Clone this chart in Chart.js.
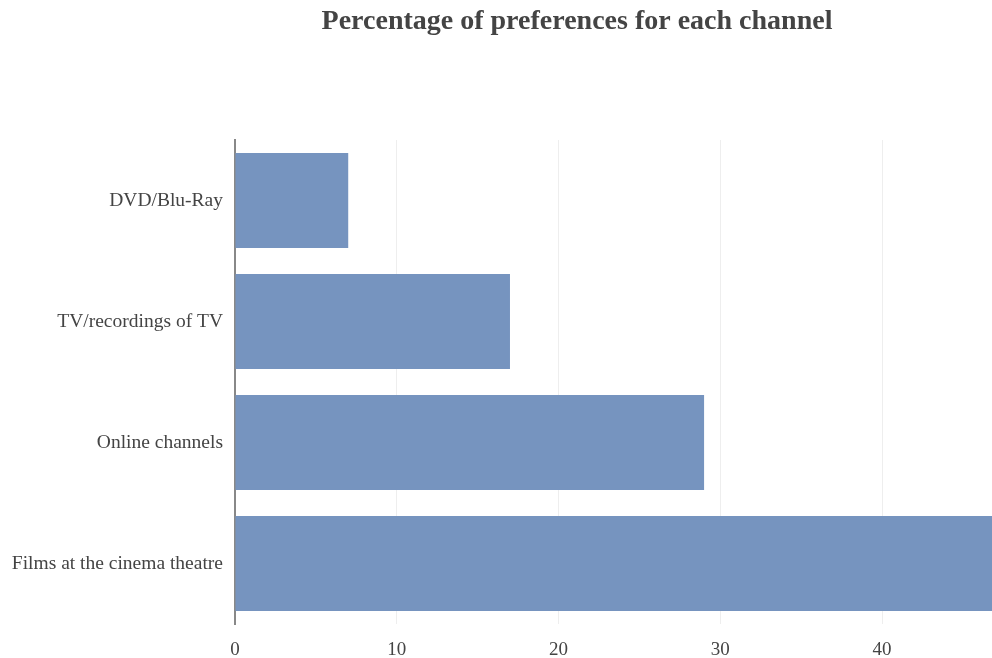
<!DOCTYPE html>
<html>
<head>
<meta charset="utf-8">
<script src="https://cdn.jsdelivr.net/npm/chart.js@4.4.1/dist/chart.umd.min.js"></script>
<style>
html,body{margin:0;padding:0;background:#fff;}
#wrap{width:992px;height:658px;position:relative;}
</style>
</head>
<body>
<div id="wrap"><canvas id="c" width="992" height="658"></canvas></div>
<script>
const categories = ["DVD/Blu-Ray", "TV/recordings of TV", "Online channels", "Films at the cinema theatre"];
const percentages = [7, 17, 29, 47];
const tickValues = [0, 10, 20, 30, 40];
const chartTitle = "Percentage of preferences for each channel";

const titleShift = {
  id: 'titleShift',
  afterLayout(chart) {
    const t = chart.titleBlock;
    if (t) { t.left = 2 * 577 - t.right; }
  }
};

new Chart(document.getElementById('c'), {
  type: 'bar',
  data: {
    labels: categories,
    datasets: [{
      data: percentages,
      backgroundColor: '#7694bf',
      borderWidth: 0,
      barPercentage: 0.785,
      categoryPercentage: 1.0
    }]
  },
  options: {
    indexAxis: 'y',
    responsive: false,
    animation: false,
    layout: { padding: { left: 0, right: 0, top: 0, bottom: 0 } },
    plugins: {
      legend: { display: false },
      tooltip: { enabled: false },
      title: {
        display: true,
        text: chartTitle,
        color: '#444',
        font: { family: '"Liberation Serif", serif', size: 28, weight: 'bold' },
        padding: { top: 5, bottom: 101.4 }
      }
    },
    scales: {
      x: {
        min: 0,
        max: 46.8,
        afterBuildTicks(scale) {
          scale.ticks = tickValues.map(v => ({ value: v }));
        },
        afterFit(scale) { scale.height = 34; },
        grid: { color: '#eeeeee', lineWidth: 1, drawTicks: false },
        border: { display: false },
        ticks: {
          color: '#444',
          padding: 15,
          font: { family: '"Liberation Serif", serif', size: 19 }
        }
      },
      y: {
        afterFit(scale) { scale.width = 235; },
        grid: { display: false, drawTicks: false },
        border: { display: true, color: '#888', width: 2 },
        ticks: {
          color: '#444',
          padding: 12,
          font: { family: '"Liberation Serif", serif', size: 19.5 }
        }
      }
    }
  },
  plugins: [titleShift]
});
</script>
</body>
</html>
